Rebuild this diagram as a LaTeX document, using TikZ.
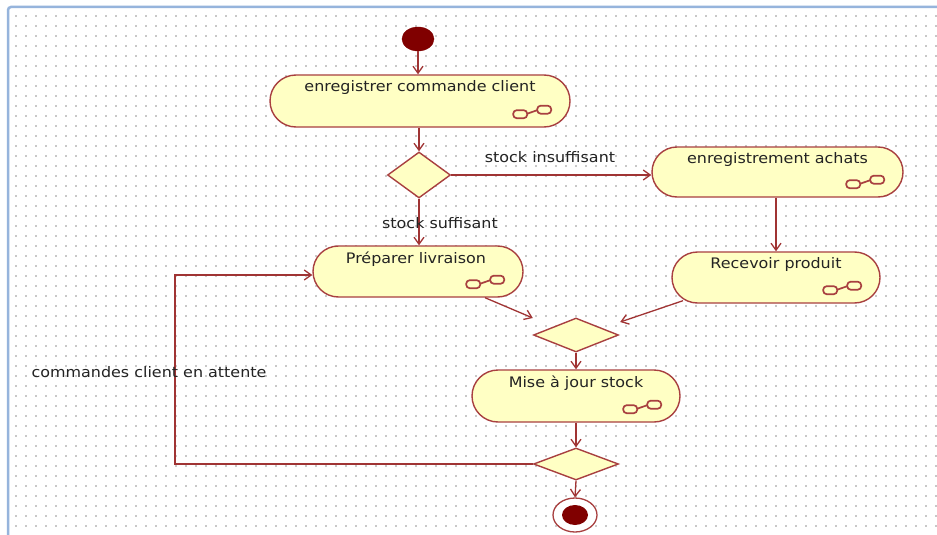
\documentclass[tikz,border=0pt]{standalone}
\usepackage{fontspec}
\setmainfont[FakeStretch=1.1]{DejaVu Sans}
\usetikzlibrary{shapes.geometric,shapes.misc,arrows.meta,calc}
\definecolor{actfill}{RGB}{255,255,196}
\definecolor{actline}{RGB}{168,64,64}
\definecolor{flow}{RGB}{160,52,52}
\definecolor{startfill}{RGB}{128,0,0}
\definecolor{gridgray}{RGB}{200,200,200}
\definecolor{framecol}{RGB}{150,180,220}
\definecolor{ink}{RGB}{35,35,35}

\begin{document}
\begin{tikzpicture}[x=1pt,y=-1pt,
  activity/.style={draw=actline, fill=actfill, line width=1.4pt, rounded rectangle,
    inner sep=0pt},
  decision/.style={draw=actline, fill=actfill, line width=1.4pt, diamond, inner sep=0pt},
  txt/.style={font=\fontsize{14.5}{17}\selectfont, text=ink, inner sep=0pt},
  flowline/.style={draw=flow, line width=1.3pt, -{Straight Barb[length=7pt,width=10pt]}},
  callicon/.pic={
    \draw[actline, line width=1.7pt, rounded corners=3.5pt] (-57.5,-17.5) rectangle (-43.5,-9.5);
    \draw[actline, line width=1.7pt, rounded corners=3.5pt] (-33.5,-22) rectangle (-19.5,-14);
    \draw[actline, line width=1.7pt] (-43.5,-14) -- (-33.5,-17.5);
  }
]
\useasboundingbox (0,0) rectangle (937,535);
\fill[white] (0,0) rectangle (937,535);

% dotted drawing grid
\foreach \gy in {16,26,...,530}
  \draw[gridgray, line width=1.2pt, dash pattern=on 1.2pt off 8.8pt] (15.4,\gy) -- (937,\gy);

% canvas frame
\draw[framecol, line width=2.5pt, rounded corners=3pt] (8,540) -- (8,7) -- (940,7);

% start and end
\node[ellipse, fill=startfill, draw=startfill, minimum width=32pt, minimum height=24pt, inner sep=0pt] (start) at (418,39) {};
\node[ellipse, draw=actline, fill=white, line width=1.3pt, minimum width=44pt, minimum height=34pt, inner sep=0pt] (finish) at (575,515) {};
\node[ellipse, fill=startfill, minimum width=26pt, minimum height=20pt, inner sep=0pt] (finishdot) at (finish) {};

% actions
\node[activity, minimum width=300pt, minimum height=52pt] (a1) at (420,101) {};
\node[activity, minimum width=251pt, minimum height=50pt] (a2) at (777.5,172) {};
\node[activity, minimum width=210pt, minimum height=51pt] (a3) at (418,271.5) {};
\node[activity, minimum width=208pt, minimum height=51pt] (a4) at (776,277.5) {};
\node[activity, minimum width=208pt, minimum height=52pt] (a5) at (576,396) {};

\node[txt] (t1) at ($(a1.north)+(0,13.5)$) {enregistrer commande client};
\node[txt] (t2) at ($(a2.north)+(0,13.5)$) {enregistrement achats};
\node[txt] (t3) at ($(a3.north)+(-2,14)$) {Préparer livraison};
\node[txt] (t4) at ($(a4.north)+(0,13.5)$) {Recevoir produit};
\node[txt] (t5) at ($(a5.north)+(0,14)$) {Mise à jour stock};

% behaviour-call marks in the lower right of each action
\pic at (a1.south -| a1.east) {callicon};
\pic at (a2.south -| a2.east) {callicon};
\pic at (a3.south -| a3.east) {callicon};
\pic at (a4.south -| a4.east) {callicon};
\pic at (a5.south -| a5.east) {callicon};

% decisions and merges
\node[decision, minimum width=63pt, minimum height=46pt] (d1) at (419,175) {};
\node[decision, minimum width=85pt, minimum height=34pt] (d2) at (576,335) {};
\node[decision, minimum width=85pt, minimum height=32pt] (d3) at (576,464) {};

% flows
\draw[flowline] (start.south) -- (start.south |- a1.north);
\draw[flowline] (a1.south -| d1.north) -- (d1.north);
\draw[flowline] (d1.east) -- (d1.east -| a2.west);
\draw[flowline] (d1.south) -- (d1.south |- a3.north);
\draw[flowline] (a2.south -| a4.north) -- (a4.north);
\draw[flowline] ($(a3.south)+(67,0)$) -- ($(d2.west)+(0,-17)$);
\draw[flowline] ($(a4.south)+(-93,-3)$) -- ($(d2.east)+(1,-13)$);
\draw[flowline] (d2.south) -- (d2.south |- a5.north);
\draw[flowline] (a5.south) -- (d3.north);
\draw[flowline] (d3.south) -- (finish.north);
\coordinate (loopcorner) at (175,275);
\draw[flowline] (d3.west) -| (loopcorner) -- (loopcorner -| a3.west);

% guards
\node[txt] (g1) at (550,157) {stock insuffisant};
\node[txt] (g2) at (440,223) {stock suffisant};
\node[txt] (g3) at (149,372) {commandes client en attente};
\end{tikzpicture}
\end{document}
